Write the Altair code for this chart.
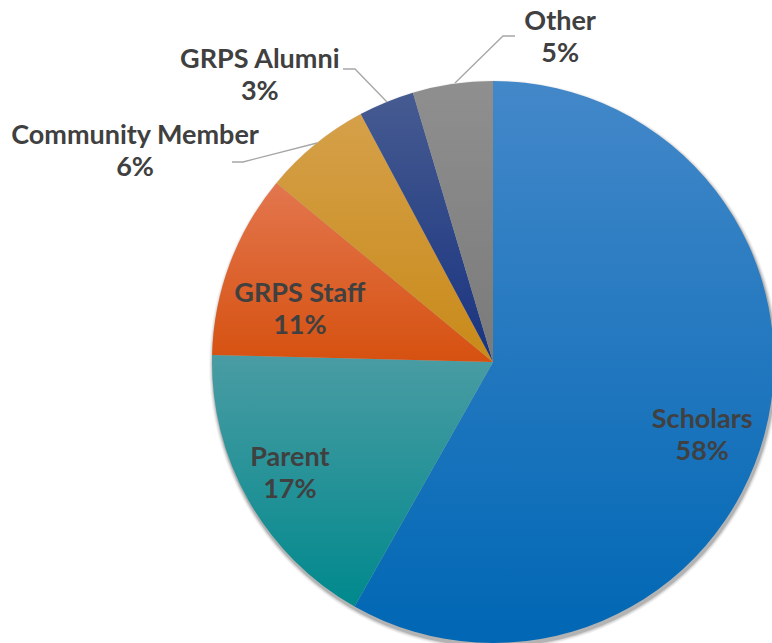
import math
import altair as alt
import pandas as pd

# ---- data ----
categories = ["Scholars", "Parent", "GRPS Staff", "Community Member", "GRPS Alumni", "Other"]
values = [58.2, 17.2, 10.6, 6.2, 3.2, 4.6]

# ---- styling / layout ----
top_colors = ["#4388c9", "#4a9ca3", "#e3764e", "#d5a04a", "#465b91", "#8f8f8f"]
bottom_colors = ["#0067b4", "#00898d", "#d65110", "#c98a18", "#19337f", "#7a7a7a"]
label_angle = [109.5, 241.1, 285.1, 300.4, 320.8, 11.7]   # degrees, clockwise from top
label_radius = [222, 232, 200, 415, 369, 331]            # px from pie centre

leader_group = [0, 0, 0, 1, 1, 1, 2, 2, 2]
leader_seq = [0, 1, 2, 0, 1, 2, 0, 1, 2]
leader_x = [455, 503, 515, 387, 355, 343, 317, 243, 232]
leader_y = [83, 36, 36, 102, 69, 69, 143, 162, 162]

W, H = 772, 643
CX, CY, R = 493, 362, 281
FONT = "Lato"
FS, LH = 27, 32

df = pd.DataFrame({
    "category": categories,
    "value": values,
    "order": list(range(len(categories))),
    "la": label_angle,
    "lr": label_radius,
})

theta_scale = alt.Scale(domain=[0, 100], range=[0, 2 * math.pi])

base = (
    alt.Chart(df)
    .transform_window(cum="sum(value)", sort=[alt.SortField("order")], frame=[None, 0])
    .transform_calculate(start="datum.cum - datum.value")
)

layers = []

# soft drop shadow (concentric discs behind the pie)
one = pd.DataFrame({"k": [0]})
for dr, op in [(4, 0.04), (3, 0.06), (2, 0.09), (1, 0.14)]:
    layers.append(
        alt.Chart(one).mark_arc(fill="black", opacity=op).encode(
            theta=alt.value(0),
            theta2=alt.value(2 * math.pi),
            radius=alt.value(R + dr),
            x=alt.value(CX + 1),
            y=alt.value(CY + 3),
        )
    )

for i, cat in enumerate(categories):
    grad = alt.LinearGradient(
        gradient="linear",
        x1=0, y1=0, x2=0, y2=1,
        stops=[
            alt.GradientStop(offset=0, color=top_colors[i]),
            alt.GradientStop(offset=1, color=bottom_colors[i]),
        ],
    )
    arc = (
        base.transform_filter(alt.datum.category == cat)
        .mark_arc(fill=grad)
        .encode(
            theta=alt.Theta("start:Q", scale=theta_scale, stack=None),
            theta2="cum:Q",
            radius=alt.value(R),
            x=alt.value(CX),
            y=alt.value(CY),
        )
    )
    layers.append(arc)

leader_df = pd.DataFrame({"g": leader_group, "s": leader_seq, "x": leader_x, "y": leader_y})
leaders = alt.Chart(leader_df).mark_line(color="#a6a6a6", strokeWidth=1.3).encode(
    x=alt.X("x:Q", scale=alt.Scale(domain=[0, W]), axis=None),
    y=alt.Y("y:Q", scale=alt.Scale(domain=[H, 0]), axis=None),
    detail="g:N",
    order="s:Q",
)
layers.append(leaders)

labels = (
    base.transform_calculate(label="datum.category + '\\n' + format(datum.value, '.0f') + '%'")
    .mark_text(font=FONT, fontSize=FS, fontWeight="bold", color="#404040",
               lineBreak="\n", lineHeight=LH, align="center", baseline="middle", dy=-LH / 2)
    .encode(
        theta=alt.Theta("la:Q", scale=alt.Scale(domain=[0, 360], range=[0, 2 * math.pi]), stack=None),
        radius=alt.Radius("lr:Q", scale=alt.Scale(type="linear", domain=[0, 500], range=[0, 500])),
        text="label:N",
        x=alt.value(CX),
        y=alt.value(CY),
    )
)
layers.append(labels)

chart = (
    alt.layer(*layers)
    .resolve_scale(theta="independent", radius="independent")
    .properties(width=W, height=H, autosize=alt.AutoSizeParams(type="none"), padding=0, background="white")
    .configure_view(stroke=None)
)

chart.save("out.html", embed_options={"renderer": "svg", "actions": False})
